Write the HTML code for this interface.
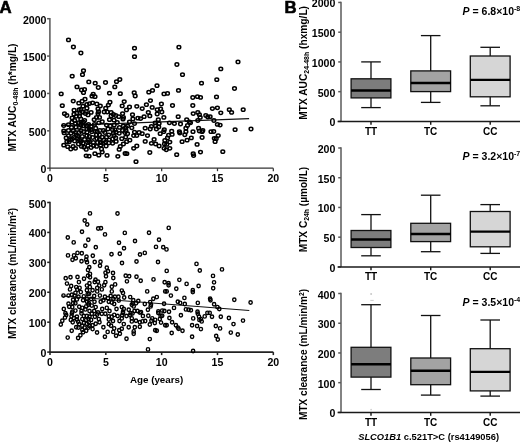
<!DOCTYPE html><html><head><meta charset="utf-8"><style>html,body{margin:0;padding:0;background:#fff;width:520px;height:442px;overflow:hidden}svg{display:block;filter:grayscale(100%)}text{font-family:"Liberation Sans",sans-serif}</style></head><body><svg width="520" height="442" viewBox="0 0 520 442"><rect width="520" height="442" fill="#fff"/><text x="-0.4" y="13" font-size="16.8" font-weight="bold" stroke="#000" stroke-width="0.6">A</text><text x="284.6" y="13" font-size="16.8" font-weight="bold" stroke="#000" stroke-width="0.6">B</text><line x1="49.9" y1="17.99999999999999" x2="49.9" y2="168.2" stroke="#555" stroke-width="1.5"/><line x1="47.1" y1="168.2" x2="49.9" y2="168.2" stroke="#555" stroke-width="1.5"/><text x="46.5" y="173.20" font-size="10.6" font-weight="bold" text-anchor="end">0</text><line x1="47.1" y1="130.825" x2="49.9" y2="130.825" stroke="#555" stroke-width="1.5"/><text x="46.5" y="135.82" font-size="10.6" font-weight="bold" text-anchor="end">500</text><line x1="47.1" y1="93.44999999999999" x2="49.9" y2="93.44999999999999" stroke="#555" stroke-width="1.5"/><text x="46.5" y="98.45" font-size="10.6" font-weight="bold" text-anchor="end">1000</text><line x1="47.1" y1="56.07499999999999" x2="49.9" y2="56.07499999999999" stroke="#555" stroke-width="1.5"/><text x="46.5" y="61.07" font-size="10.6" font-weight="bold" text-anchor="end">1500</text><line x1="47.1" y1="18.69999999999999" x2="49.9" y2="18.69999999999999" stroke="#555" stroke-width="1.5"/><text x="46.5" y="23.70" font-size="10.6" font-weight="bold" text-anchor="end">2000</text><line x1="49.2" y1="168.2" x2="273.3" y2="168.2" stroke="#333" stroke-width="1.25"/><line x1="50.0" y1="168.2" x2="50.0" y2="171.2" stroke="#333" stroke-width="1.25"/><text x="50.0" y="181.5" font-size="10.6" font-weight="bold" text-anchor="middle">0</text><line x1="105.83" y1="168.2" x2="105.83" y2="171.2" stroke="#333" stroke-width="1.25"/><text x="105.83" y="181.5" font-size="10.6" font-weight="bold" text-anchor="middle">5</text><line x1="161.66" y1="168.2" x2="161.66" y2="171.2" stroke="#333" stroke-width="1.25"/><text x="161.66" y="181.5" font-size="10.6" font-weight="bold" text-anchor="middle">10</text><line x1="217.49" y1="168.2" x2="217.49" y2="171.2" stroke="#333" stroke-width="1.25"/><text x="217.49" y="181.5" font-size="10.6" font-weight="bold" text-anchor="middle">15</text><line x1="273.32" y1="168.2" x2="273.32" y2="171.2" stroke="#333" stroke-width="1.25"/><text x="273.32" y="181.5" font-size="10.6" font-weight="bold" text-anchor="middle">20</text><text transform="translate(16.0,151.5) rotate(-90)" font-size="10.6" font-weight="bold" textLength="108.0" lengthAdjust="spacingAndGlyphs">MTX AUC<tspan font-size="7.2" dy="2.3">0-48h</tspan><tspan dy="-2.3"> (h*mg/L)</tspan></text><line x1="50" y1="201.8" x2="50" y2="352.1" stroke="#222" stroke-width="1.55"/><line x1="47.2" y1="352.1" x2="50" y2="352.1" stroke="#222" stroke-width="1.55"/><text x="46.5" y="357.10" font-size="10.6" font-weight="bold" text-anchor="end">0</text><line x1="47.2" y1="322.18" x2="50" y2="322.18" stroke="#222" stroke-width="1.55"/><text x="46.5" y="327.18" font-size="10.6" font-weight="bold" text-anchor="end">100</text><line x1="47.2" y1="292.26" x2="50" y2="292.26" stroke="#222" stroke-width="1.55"/><text x="46.5" y="297.26" font-size="10.6" font-weight="bold" text-anchor="end">200</text><line x1="47.2" y1="262.34000000000003" x2="50" y2="262.34000000000003" stroke="#222" stroke-width="1.55"/><text x="46.5" y="267.34" font-size="10.6" font-weight="bold" text-anchor="end">300</text><line x1="47.2" y1="232.42000000000002" x2="50" y2="232.42000000000002" stroke="#222" stroke-width="1.55"/><text x="46.5" y="237.42" font-size="10.6" font-weight="bold" text-anchor="end">400</text><line x1="47.2" y1="202.5" x2="50" y2="202.5" stroke="#222" stroke-width="1.55"/><text x="46.5" y="207.50" font-size="10.6" font-weight="bold" text-anchor="end">500</text><line x1="49.2" y1="352.1" x2="273.3" y2="352.1" stroke="#222" stroke-width="1.55"/><line x1="50.0" y1="352.1" x2="50.0" y2="355.1" stroke="#222" stroke-width="1.55"/><text x="50.0" y="365.5" font-size="10.6" font-weight="bold" text-anchor="middle">0</text><line x1="105.83" y1="352.1" x2="105.83" y2="355.1" stroke="#222" stroke-width="1.55"/><text x="105.83" y="365.5" font-size="10.6" font-weight="bold" text-anchor="middle">5</text><line x1="161.66" y1="352.1" x2="161.66" y2="355.1" stroke="#222" stroke-width="1.55"/><text x="161.66" y="365.5" font-size="10.6" font-weight="bold" text-anchor="middle">10</text><line x1="217.49" y1="352.1" x2="217.49" y2="355.1" stroke="#222" stroke-width="1.55"/><text x="217.49" y="365.5" font-size="10.6" font-weight="bold" text-anchor="middle">15</text><line x1="273.32" y1="352.1" x2="273.32" y2="355.1" stroke="#222" stroke-width="1.55"/><text x="273.32" y="365.5" font-size="10.6" font-weight="bold" text-anchor="middle">20</text><text transform="translate(16.0,339.0) rotate(-90)" font-size="10.6" font-weight="bold" textLength="131.1" lengthAdjust="spacingAndGlyphs">MTX clearance (mL/min/m<tspan font-size="7.2" dy="-3.5">2</tspan><tspan dy="3.5">)</tspan></text><text x="156.6" y="383.4" font-size="9.8" font-weight="bold" text-anchor="middle">Age (years)</text><line x1="341.0" y1="1.7500000000000029" x2="341.0" y2="121.4" stroke="#5a5a5a" stroke-width="1.5"/><line x1="338.2" y1="121.4" x2="341.0" y2="121.4" stroke="#5a5a5a" stroke-width="1.5"/><text x="335.4" y="126.40" font-size="10.6" font-weight="bold" text-anchor="end">0</text><line x1="338.2" y1="91.66250000000001" x2="341.0" y2="91.66250000000001" stroke="#5a5a5a" stroke-width="1.5"/><text x="335.4" y="96.66" font-size="10.6" font-weight="bold" text-anchor="end">500</text><line x1="338.2" y1="61.925000000000004" x2="341.0" y2="61.925000000000004" stroke="#5a5a5a" stroke-width="1.5"/><text x="335.4" y="66.93" font-size="10.6" font-weight="bold" text-anchor="end">1000</text><line x1="338.2" y1="32.1875" x2="341.0" y2="32.1875" stroke="#5a5a5a" stroke-width="1.5"/><text x="335.4" y="37.19" font-size="10.6" font-weight="bold" text-anchor="end">1500</text><line x1="338.2" y1="2.450000000000003" x2="341.0" y2="2.450000000000003" stroke="#5a5a5a" stroke-width="1.5"/><text x="335.4" y="7.45" font-size="10.6" font-weight="bold" text-anchor="end">2000</text><line x1="337.6" y1="121.4" x2="520" y2="121.4" stroke="#1a1a1a" stroke-width="1.45"/><line x1="371" y1="121.4" x2="371" y2="124.80000000000001" stroke="#1a1a1a" stroke-width="1.45"/><line x1="430.7" y1="121.4" x2="430.7" y2="124.80000000000001" stroke="#1a1a1a" stroke-width="1.45"/><line x1="490.2" y1="121.4" x2="490.2" y2="124.80000000000001" stroke="#1a1a1a" stroke-width="1.45"/><text x="371" y="134.80" font-size="10" font-weight="bold" text-anchor="middle">TT</text><text x="430.7" y="134.80" font-size="10" font-weight="bold" text-anchor="middle">TC</text><text x="490.2" y="134.80" font-size="10" font-weight="bold" text-anchor="middle">CC</text><line x1="371" y1="61.9" x2="371" y2="107.6" stroke="#111" stroke-width="1.3"/><line x1="361.2" y1="61.9" x2="380.8" y2="61.9" stroke="#111" stroke-width="1.3"/><line x1="361.2" y1="107.6" x2="380.8" y2="107.6" stroke="#111" stroke-width="1.3"/><rect x="351.1" y="78.8" width="39.8" height="19.10000000000001" fill="#7d7d7d" stroke="#111" stroke-width="1.3"/><line x1="351.1" y1="90.5" x2="390.9" y2="90.5" stroke="#000" stroke-width="2.4"/><line x1="430.7" y1="35.6" x2="430.7" y2="102.4" stroke="#111" stroke-width="1.3"/><line x1="420.9" y1="35.6" x2="440.5" y2="35.6" stroke="#111" stroke-width="1.3"/><line x1="420.9" y1="102.4" x2="440.5" y2="102.4" stroke="#111" stroke-width="1.3"/><rect x="410.8" y="70.9" width="39.8" height="20.69999999999999" fill="#a3a3a3" stroke="#111" stroke-width="1.3"/><line x1="410.8" y1="83" x2="450.59999999999997" y2="83" stroke="#000" stroke-width="2.4"/><line x1="490.2" y1="47.3" x2="490.2" y2="105.8" stroke="#111" stroke-width="1.3"/><line x1="480.4" y1="47.3" x2="500.0" y2="47.3" stroke="#111" stroke-width="1.3"/><line x1="480.4" y1="105.8" x2="500.0" y2="105.8" stroke="#111" stroke-width="1.3"/><rect x="470.3" y="56" width="39.8" height="40.8" fill="#d6d6d6" stroke="#111" stroke-width="1.3"/><line x1="470.3" y1="79.9" x2="510.09999999999997" y2="79.9" stroke="#000" stroke-width="2.4"/><text transform="translate(307.0,119.69999999999999) rotate(-90)" font-size="10.6" font-weight="bold" textLength="113.7" lengthAdjust="spacingAndGlyphs">MTX AUC<tspan font-size="7.2" dy="2.3">24-48h</tspan><tspan dy="-2.3"> (hxmg/L)</tspan></text><text x="462.6" y="14.7" font-size="10.5" font-weight="bold"><tspan font-style="italic">P</tspan> = 6.8×10<tspan font-size="7" dy="-4">-8</tspan></text><line x1="341.0" y1="147.29999999999998" x2="341.0" y2="266.9" stroke="#5a5a5a" stroke-width="1.5"/><line x1="338.2" y1="266.9" x2="341.0" y2="266.9" stroke="#5a5a5a" stroke-width="1.5"/><text x="335.4" y="271.90" font-size="10.6" font-weight="bold" text-anchor="end">0</text><line x1="338.2" y1="237.17499999999998" x2="341.0" y2="237.17499999999998" stroke="#5a5a5a" stroke-width="1.5"/><text x="335.4" y="242.17" font-size="10.6" font-weight="bold" text-anchor="end">50</text><line x1="338.2" y1="207.45" x2="341.0" y2="207.45" stroke="#5a5a5a" stroke-width="1.5"/><text x="335.4" y="212.45" font-size="10.6" font-weight="bold" text-anchor="end">100</text><line x1="338.2" y1="177.72499999999997" x2="341.0" y2="177.72499999999997" stroke="#5a5a5a" stroke-width="1.5"/><text x="335.4" y="182.72" font-size="10.6" font-weight="bold" text-anchor="end">150</text><line x1="338.2" y1="147.99999999999997" x2="341.0" y2="147.99999999999997" stroke="#5a5a5a" stroke-width="1.5"/><text x="335.4" y="153.00" font-size="10.6" font-weight="bold" text-anchor="end">200</text><line x1="337.6" y1="266.9" x2="520" y2="266.9" stroke="#1a1a1a" stroke-width="1.45"/><line x1="371" y1="266.9" x2="371" y2="270.29999999999995" stroke="#1a1a1a" stroke-width="1.45"/><line x1="430.7" y1="266.9" x2="430.7" y2="270.29999999999995" stroke="#1a1a1a" stroke-width="1.45"/><line x1="490.2" y1="266.9" x2="490.2" y2="270.29999999999995" stroke="#1a1a1a" stroke-width="1.45"/><text x="371" y="280.30" font-size="10" font-weight="bold" text-anchor="middle">TT</text><text x="430.7" y="280.30" font-size="10" font-weight="bold" text-anchor="middle">TC</text><text x="490.2" y="280.30" font-size="10" font-weight="bold" text-anchor="middle">CC</text><line x1="371" y1="214.6" x2="371" y2="255.8" stroke="#111" stroke-width="1.3"/><line x1="361.2" y1="214.6" x2="380.8" y2="214.6" stroke="#111" stroke-width="1.3"/><line x1="361.2" y1="255.8" x2="380.8" y2="255.8" stroke="#111" stroke-width="1.3"/><rect x="351.1" y="230.5" width="39.8" height="17.0" fill="#7d7d7d" stroke="#111" stroke-width="1.3"/><line x1="351.1" y1="239.5" x2="390.9" y2="239.5" stroke="#000" stroke-width="2.4"/><line x1="430.7" y1="195.2" x2="430.7" y2="251.7" stroke="#111" stroke-width="1.3"/><line x1="420.9" y1="195.2" x2="440.5" y2="195.2" stroke="#111" stroke-width="1.3"/><line x1="420.9" y1="251.7" x2="440.5" y2="251.7" stroke="#111" stroke-width="1.3"/><rect x="410.8" y="223.3" width="39.8" height="18.299999999999983" fill="#a3a3a3" stroke="#111" stroke-width="1.3"/><line x1="410.8" y1="234" x2="450.59999999999997" y2="234" stroke="#000" stroke-width="2.4"/><line x1="490.2" y1="204.6" x2="490.2" y2="253.4" stroke="#111" stroke-width="1.3"/><line x1="480.4" y1="204.6" x2="500.0" y2="204.6" stroke="#111" stroke-width="1.3"/><line x1="480.4" y1="253.4" x2="500.0" y2="253.4" stroke="#111" stroke-width="1.3"/><rect x="470.3" y="211.5" width="39.8" height="35.30000000000001" fill="#d6d6d6" stroke="#111" stroke-width="1.3"/><line x1="470.3" y1="231.6" x2="510.09999999999997" y2="231.6" stroke="#000" stroke-width="2.4"/><text transform="translate(306.6,252.2) rotate(-90)" font-size="10.6" font-weight="bold" textLength="85.4" lengthAdjust="spacingAndGlyphs">MTX C<tspan font-size="7.2" dy="2.3">24h</tspan><tspan dy="-2.3"> (µmol/L)</tspan></text><text x="462.6" y="160.2" font-size="10.5" font-weight="bold"><tspan font-style="italic">P</tspan> = 3.2×10<tspan font-size="7" dy="-4">-7</tspan></text><line x1="341.0" y1="292.8" x2="341.0" y2="412.4" stroke="#5a5a5a" stroke-width="1.5"/><line x1="338.2" y1="412.4" x2="341.0" y2="412.4" stroke="#5a5a5a" stroke-width="1.5"/><text x="335.4" y="417.40" font-size="10.6" font-weight="bold" text-anchor="end">0</text><line x1="338.2" y1="382.67499999999995" x2="341.0" y2="382.67499999999995" stroke="#5a5a5a" stroke-width="1.5"/><text x="335.4" y="387.67" font-size="10.6" font-weight="bold" text-anchor="end">100</text><line x1="338.2" y1="352.95" x2="341.0" y2="352.95" stroke="#5a5a5a" stroke-width="1.5"/><text x="335.4" y="357.95" font-size="10.6" font-weight="bold" text-anchor="end">200</text><line x1="338.2" y1="323.22499999999997" x2="341.0" y2="323.22499999999997" stroke="#5a5a5a" stroke-width="1.5"/><text x="335.4" y="328.22" font-size="10.6" font-weight="bold" text-anchor="end">300</text><line x1="338.2" y1="293.5" x2="341.0" y2="293.5" stroke="#5a5a5a" stroke-width="1.5"/><text x="335.4" y="298.50" font-size="10.6" font-weight="bold" text-anchor="end">400</text><line x1="337.6" y1="412.4" x2="520" y2="412.4" stroke="#1a1a1a" stroke-width="1.45"/><line x1="371" y1="412.4" x2="371" y2="415.79999999999995" stroke="#1a1a1a" stroke-width="1.45"/><line x1="430.7" y1="412.4" x2="430.7" y2="415.79999999999995" stroke="#1a1a1a" stroke-width="1.45"/><line x1="490.2" y1="412.4" x2="490.2" y2="415.79999999999995" stroke="#1a1a1a" stroke-width="1.45"/><text x="371" y="425.80" font-size="10" font-weight="bold" text-anchor="middle">TT</text><text x="430.7" y="425.80" font-size="10" font-weight="bold" text-anchor="middle">TC</text><text x="490.2" y="425.80" font-size="10" font-weight="bold" text-anchor="middle">CC</text><line x1="371" y1="304.7" x2="371" y2="389.5" stroke="#111" stroke-width="1.3"/><line x1="361.2" y1="304.7" x2="380.8" y2="304.7" stroke="#111" stroke-width="1.3"/><line x1="361.2" y1="389.5" x2="380.8" y2="389.5" stroke="#111" stroke-width="1.3"/><rect x="351.1" y="347.3" width="39.8" height="29.80000000000001" fill="#7d7d7d" stroke="#111" stroke-width="1.3"/><line x1="351.1" y1="364.3" x2="390.9" y2="364.3" stroke="#000" stroke-width="2.4"/><line x1="430.7" y1="315.5" x2="430.7" y2="395.1" stroke="#111" stroke-width="1.3"/><line x1="420.9" y1="315.5" x2="440.5" y2="315.5" stroke="#111" stroke-width="1.3"/><line x1="420.9" y1="395.1" x2="440.5" y2="395.1" stroke="#111" stroke-width="1.3"/><rect x="410.8" y="358" width="39.8" height="26.69999999999999" fill="#a3a3a3" stroke="#111" stroke-width="1.3"/><line x1="410.8" y1="370.8" x2="450.59999999999997" y2="370.8" stroke="#000" stroke-width="2.4"/><line x1="490.2" y1="320" x2="490.2" y2="396.1" stroke="#111" stroke-width="1.3"/><line x1="480.4" y1="320" x2="500.0" y2="320" stroke="#111" stroke-width="1.3"/><line x1="480.4" y1="396.1" x2="500.0" y2="396.1" stroke="#111" stroke-width="1.3"/><rect x="470.3" y="348.7" width="39.8" height="42.19999999999999" fill="#d6d6d6" stroke="#111" stroke-width="1.3"/><line x1="470.3" y1="371.9" x2="510.09999999999997" y2="371.9" stroke="#000" stroke-width="2.4"/><text transform="translate(307.3,419.90000000000003) rotate(-90)" font-size="10.6" font-weight="bold" textLength="131.1" lengthAdjust="spacingAndGlyphs">MTX clearance (mL/min/m<tspan font-size="7.2" dy="-3.5">2</tspan><tspan dy="3.5">)</tspan></text><text x="462.6" y="305.6" font-size="10.5" font-weight="bold"><tspan font-style="italic">P</tspan> = 3.5×10<tspan font-size="7" dy="-4">-4</tspan></text><text x="358.2" y="439.5" font-size="9.5" font-weight="bold" textLength="140.8" lengthAdjust="spacingAndGlyphs"><tspan font-style="italic">SLCO1B1</tspan> c.521T&gt;C (rs4149056)</text><circle cx="371.1" cy="293.9" r="1" fill="#c8c8c8"/><rect x="370.3" y="299.9" width="3.4" height="0.9" fill="#c8c8c8"/><circle cx="371.1" cy="409.6" r="0.9" fill="#d0d0d0"/><line x1="61" y1="125.6" x2="249.1" y2="118.6" stroke="#111" stroke-width="1.1"/><line x1="61.6" y1="296" x2="249.3" y2="310.5" stroke="#111" stroke-width="1.1"/><g fill="none" stroke="#000" stroke-width="1.5"><ellipse cx="68.5" cy="39.90" rx="1.85" ry="1.65"/><ellipse cx="73.4" cy="47.00" rx="1.85" ry="1.65"/><ellipse cx="80.9" cy="53.00" rx="1.85" ry="1.65"/><ellipse cx="134.5" cy="48.20" rx="1.85" ry="1.65"/><ellipse cx="134.5" cy="56.70" rx="1.85" ry="1.65"/><ellipse cx="178.9" cy="47.20" rx="1.85" ry="1.65"/><ellipse cx="176.9" cy="64.50" rx="1.85" ry="1.65"/><ellipse cx="238.0" cy="61.90" rx="1.85" ry="1.65"/><ellipse cx="83.5" cy="70.70" rx="1.85" ry="1.65"/><ellipse cx="82.5" cy="74.70" rx="1.85" ry="1.65"/><ellipse cx="72.2" cy="76.20" rx="1.85" ry="1.65"/><ellipse cx="88.8" cy="81.90" rx="1.85" ry="1.65"/><ellipse cx="95.2" cy="83.20" rx="1.85" ry="1.65"/><ellipse cx="98.3" cy="87.50" rx="1.85" ry="1.65"/><ellipse cx="77.0" cy="86.90" rx="1.85" ry="1.65"/><ellipse cx="81.5" cy="90.00" rx="1.85" ry="1.65"/><ellipse cx="84.5" cy="89.50" rx="1.85" ry="1.65"/><ellipse cx="83.5" cy="92.70" rx="1.85" ry="1.65"/><ellipse cx="61.2" cy="93.90" rx="1.85" ry="1.65"/><ellipse cx="93.2" cy="94.20" rx="1.85" ry="1.65"/><ellipse cx="92.0" cy="96.20" rx="1.85" ry="1.65"/><ellipse cx="95.0" cy="96.70" rx="1.85" ry="1.65"/><ellipse cx="73.25" cy="101.10" rx="1.85" ry="1.65"/><ellipse cx="85.0" cy="99.20" rx="1.85" ry="1.65"/><ellipse cx="82.15" cy="101.25" rx="1.85" ry="1.65"/><ellipse cx="105.5" cy="82.50" rx="1.85" ry="1.65"/><ellipse cx="116.5" cy="81.70" rx="1.85" ry="1.65"/><ellipse cx="119.8" cy="79.50" rx="1.85" ry="1.65"/><ellipse cx="114.8" cy="86.90" rx="1.85" ry="1.65"/><ellipse cx="109.5" cy="93.20" rx="1.85" ry="1.65"/><ellipse cx="120.3" cy="93.70" rx="1.85" ry="1.65"/><ellipse cx="134.2" cy="92.70" rx="1.85" ry="1.65"/><ellipse cx="135.2" cy="96.00" rx="1.85" ry="1.65"/><ellipse cx="148.8" cy="92.20" rx="1.85" ry="1.65"/><ellipse cx="152.5" cy="90.40" rx="1.85" ry="1.65"/><ellipse cx="150.45" cy="100.55" rx="1.85" ry="1.65"/><ellipse cx="124.2" cy="101.60" rx="1.85" ry="1.65"/><ellipse cx="109.95" cy="102.25" rx="1.85" ry="1.65"/><ellipse cx="182.5" cy="74.70" rx="1.85" ry="1.65"/><ellipse cx="201.5" cy="83.20" rx="1.85" ry="1.65"/><ellipse cx="157.0" cy="85.70" rx="1.85" ry="1.65"/><ellipse cx="178.5" cy="90.40" rx="1.85" ry="1.65"/><ellipse cx="164.0" cy="93.90" rx="1.85" ry="1.65"/><ellipse cx="167.5" cy="93.40" rx="1.85" ry="1.65"/><ellipse cx="192.8" cy="97.50" rx="1.85" ry="1.65"/><ellipse cx="197.5" cy="96.70" rx="1.85" ry="1.65"/><ellipse cx="200.5" cy="97.40" rx="1.85" ry="1.65"/><ellipse cx="220.8" cy="68.90" rx="1.85" ry="1.65"/><ellipse cx="216.8" cy="79.70" rx="1.85" ry="1.65"/><ellipse cx="234.5" cy="88.50" rx="1.85" ry="1.65"/><ellipse cx="216.5" cy="96.90" rx="1.85" ry="1.65"/><ellipse cx="62.3" cy="105.70" rx="1.85" ry="1.65"/><ellipse cx="64.5" cy="113.70" rx="1.85" ry="1.65"/><ellipse cx="66.8" cy="115.50" rx="1.85" ry="1.65"/><ellipse cx="74.1" cy="110.15" rx="1.85" ry="1.65"/><ellipse cx="72.15" cy="117.95" rx="1.85" ry="1.65"/><ellipse cx="78.8" cy="103.20" rx="1.85" ry="1.65"/><ellipse cx="76.2" cy="116.30" rx="1.85" ry="1.65"/><ellipse cx="63.8" cy="125.50" rx="1.85" ry="1.65"/><ellipse cx="79.2" cy="109.70" rx="1.85" ry="1.65"/><ellipse cx="86.9" cy="104.40" rx="1.85" ry="1.65"/><ellipse cx="86.9" cy="108.20" rx="1.85" ry="1.65"/><ellipse cx="85.4" cy="113.60" rx="1.85" ry="1.65"/><ellipse cx="88.05" cy="114.90" rx="1.85" ry="1.65"/><ellipse cx="80.8" cy="119.00" rx="1.85" ry="1.65"/><ellipse cx="84.6" cy="120.50" rx="1.85" ry="1.65"/><ellipse cx="75.4" cy="123.60" rx="1.85" ry="1.65"/><ellipse cx="79.2" cy="127.40" rx="1.85" ry="1.65"/><ellipse cx="71.5" cy="127.40" rx="1.85" ry="1.65"/><ellipse cx="68.5" cy="130.50" rx="1.85" ry="1.65"/><ellipse cx="83.1" cy="125.90" rx="1.85" ry="1.65"/><ellipse cx="86.9" cy="129.00" rx="1.85" ry="1.65"/><ellipse cx="63.8" cy="130.90" rx="1.85" ry="1.65"/><ellipse cx="74.6" cy="120.50" rx="1.85" ry="1.65"/><ellipse cx="88.5" cy="124.40" rx="1.85" ry="1.65"/><ellipse cx="92.6" cy="102.80" rx="1.85" ry="1.65"/><ellipse cx="96.8" cy="104.00" rx="1.85" ry="1.65"/><ellipse cx="100.3" cy="105.90" rx="1.85" ry="1.65"/><ellipse cx="89.5" cy="103.60" rx="1.85" ry="1.65"/><ellipse cx="91.1" cy="112.40" rx="1.85" ry="1.65"/><ellipse cx="98.0" cy="109.00" rx="1.85" ry="1.65"/><ellipse cx="98.0" cy="113.60" rx="1.85" ry="1.65"/><ellipse cx="96.5" cy="117.40" rx="1.85" ry="1.65"/><ellipse cx="94.2" cy="119.70" rx="1.85" ry="1.65"/><ellipse cx="99.5" cy="117.40" rx="1.85" ry="1.65"/><ellipse cx="102.2" cy="121.70" rx="1.85" ry="1.65"/><ellipse cx="98.8" cy="122.80" rx="1.85" ry="1.65"/><ellipse cx="94.5" cy="124.40" rx="1.85" ry="1.65"/><ellipse cx="91.1" cy="126.70" rx="1.85" ry="1.65"/><ellipse cx="95.7" cy="128.20" rx="1.85" ry="1.65"/><ellipse cx="91.1" cy="129.70" rx="1.85" ry="1.65"/><ellipse cx="108.4" cy="105.10" rx="1.85" ry="1.65"/><ellipse cx="105.7" cy="108.20" rx="1.85" ry="1.65"/><ellipse cx="104.2" cy="112.00" rx="1.85" ry="1.65"/><ellipse cx="107.2" cy="112.00" rx="1.85" ry="1.65"/><ellipse cx="111.1" cy="112.40" rx="1.85" ry="1.65"/><ellipse cx="113.4" cy="114.40" rx="1.85" ry="1.65"/><ellipse cx="111.1" cy="115.90" rx="1.85" ry="1.65"/><ellipse cx="115.7" cy="115.50" rx="1.85" ry="1.65"/><ellipse cx="118.8" cy="116.70" rx="1.85" ry="1.65"/><ellipse cx="109.5" cy="119.70" rx="1.85" ry="1.65"/><ellipse cx="122.6" cy="113.60" rx="1.85" ry="1.65"/><ellipse cx="123.4" cy="117.40" rx="1.85" ry="1.65"/><ellipse cx="122.2" cy="105.90" rx="1.85" ry="1.65"/><ellipse cx="126.45" cy="109.90" rx="1.85" ry="1.65"/><ellipse cx="117.2" cy="122.40" rx="1.85" ry="1.65"/><ellipse cx="106.5" cy="125.10" rx="1.85" ry="1.65"/><ellipse cx="110.3" cy="125.90" rx="1.85" ry="1.65"/><ellipse cx="114.2" cy="125.10" rx="1.85" ry="1.65"/><ellipse cx="108.0" cy="129.00" rx="1.85" ry="1.65"/><ellipse cx="112.6" cy="129.70" rx="1.85" ry="1.65"/><ellipse cx="119.5" cy="127.40" rx="1.85" ry="1.65"/><ellipse cx="123.4" cy="125.90" rx="1.85" ry="1.65"/><ellipse cx="125.7" cy="127.40" rx="1.85" ry="1.65"/><ellipse cx="103.4" cy="130.50" rx="1.85" ry="1.65"/><ellipse cx="99.9" cy="130.50" rx="1.85" ry="1.65"/><ellipse cx="122.6" cy="130.50" rx="1.85" ry="1.65"/><ellipse cx="161.4" cy="104.00" rx="1.85" ry="1.65"/><ellipse cx="146.4" cy="104.70" rx="1.85" ry="1.65"/><ellipse cx="136.8" cy="106.30" rx="1.85" ry="1.65"/><ellipse cx="129.5" cy="107.00" rx="1.85" ry="1.65"/><ellipse cx="142.2" cy="108.60" rx="1.85" ry="1.65"/><ellipse cx="152.2" cy="107.40" rx="1.85" ry="1.65"/><ellipse cx="157.2" cy="109.70" rx="1.85" ry="1.65"/><ellipse cx="160.6" cy="109.00" rx="1.85" ry="1.65"/><ellipse cx="161.8" cy="112.00" rx="1.85" ry="1.65"/><ellipse cx="157.2" cy="114.00" rx="1.85" ry="1.65"/><ellipse cx="148.3" cy="112.40" rx="1.85" ry="1.65"/><ellipse cx="149.8" cy="115.90" rx="1.85" ry="1.65"/><ellipse cx="144.1" cy="116.70" rx="1.85" ry="1.65"/><ellipse cx="140.6" cy="118.60" rx="1.85" ry="1.65"/><ellipse cx="137.9" cy="118.20" rx="1.85" ry="1.65"/><ellipse cx="132.5" cy="114.70" rx="1.85" ry="1.65"/><ellipse cx="132.9" cy="119.00" rx="1.85" ry="1.65"/><ellipse cx="129.5" cy="122.00" rx="1.85" ry="1.65"/><ellipse cx="134.5" cy="123.60" rx="1.85" ry="1.65"/><ellipse cx="163.85" cy="117.40" rx="1.85" ry="1.65"/><ellipse cx="158.3" cy="119.70" rx="1.85" ry="1.65"/><ellipse cx="155.2" cy="122.80" rx="1.85" ry="1.65"/><ellipse cx="159.1" cy="123.60" rx="1.85" ry="1.65"/><ellipse cx="155.6" cy="125.90" rx="1.85" ry="1.65"/><ellipse cx="158.7" cy="127.00" rx="1.85" ry="1.65"/><ellipse cx="151.4" cy="126.30" rx="1.85" ry="1.65"/><ellipse cx="150.2" cy="129.00" rx="1.85" ry="1.65"/><ellipse cx="156.4" cy="129.00" rx="1.85" ry="1.65"/><ellipse cx="145.2" cy="128.20" rx="1.85" ry="1.65"/><ellipse cx="131.8" cy="127.80" rx="1.85" ry="1.65"/><ellipse cx="127.5" cy="125.90" rx="1.85" ry="1.65"/><ellipse cx="164.25" cy="129.70" rx="1.85" ry="1.65"/><ellipse cx="172.5" cy="105.50" rx="1.85" ry="1.65"/><ellipse cx="192.8" cy="105.50" rx="1.85" ry="1.65"/><ellipse cx="193.2" cy="113.60" rx="1.85" ry="1.65"/><ellipse cx="197.8" cy="112.40" rx="1.85" ry="1.65"/><ellipse cx="199.4" cy="114.70" rx="1.85" ry="1.65"/><ellipse cx="200.2" cy="117.40" rx="1.85" ry="1.65"/><ellipse cx="197.8" cy="120.50" rx="1.85" ry="1.65"/><ellipse cx="178.2" cy="116.70" rx="1.85" ry="1.65"/><ellipse cx="186.7" cy="119.70" rx="1.85" ry="1.65"/><ellipse cx="169.4" cy="122.80" rx="1.85" ry="1.65"/><ellipse cx="174.4" cy="123.60" rx="1.85" ry="1.65"/><ellipse cx="180.5" cy="124.00" rx="1.85" ry="1.65"/><ellipse cx="189.4" cy="122.00" rx="1.85" ry="1.65"/><ellipse cx="190.5" cy="122.80" rx="1.85" ry="1.65"/><ellipse cx="187.5" cy="125.50" rx="1.85" ry="1.65"/><ellipse cx="185.9" cy="128.20" rx="1.85" ry="1.65"/><ellipse cx="198.6" cy="128.20" rx="1.85" ry="1.65"/><ellipse cx="171.7" cy="131.15" rx="1.85" ry="1.65"/><ellipse cx="179.4" cy="131.70" rx="1.85" ry="1.65"/><ellipse cx="193.0" cy="131.70" rx="1.85" ry="1.65"/><ellipse cx="212.4" cy="108.60" rx="1.85" ry="1.65"/><ellipse cx="217.4" cy="107.80" rx="1.85" ry="1.65"/><ellipse cx="220.8" cy="112.80" rx="1.85" ry="1.65"/><ellipse cx="229.3" cy="109.70" rx="1.85" ry="1.65"/><ellipse cx="231.6" cy="112.40" rx="1.85" ry="1.65"/><ellipse cx="205.8" cy="115.50" rx="1.85" ry="1.65"/><ellipse cx="207.8" cy="117.00" rx="1.85" ry="1.65"/><ellipse cx="210.1" cy="116.70" rx="1.85" ry="1.65"/><ellipse cx="213.9" cy="120.50" rx="1.85" ry="1.65"/><ellipse cx="217.4" cy="124.40" rx="1.85" ry="1.65"/><ellipse cx="220.1" cy="125.10" rx="1.85" ry="1.65"/><ellipse cx="235.1" cy="129.70" rx="1.85" ry="1.65"/><ellipse cx="211.0" cy="131.70" rx="1.85" ry="1.65"/><ellipse cx="213.7" cy="131.50" rx="1.85" ry="1.65"/><ellipse cx="202.8" cy="130.50" rx="1.85" ry="1.65"/><ellipse cx="243.2" cy="109.70" rx="1.85" ry="1.65"/><ellipse cx="251.0" cy="129.00" rx="1.85" ry="1.65"/><ellipse cx="64.2" cy="132.90" rx="1.85" ry="1.65"/><ellipse cx="66.2" cy="137.90" rx="1.85" ry="1.65"/><ellipse cx="68.5" cy="135.60" rx="1.85" ry="1.65"/><ellipse cx="70.8" cy="133.30" rx="1.85" ry="1.65"/><ellipse cx="66.9" cy="141.70" rx="1.85" ry="1.65"/><ellipse cx="69.2" cy="141.70" rx="1.85" ry="1.65"/><ellipse cx="63.8" cy="145.20" rx="1.85" ry="1.65"/><ellipse cx="67.7" cy="146.70" rx="1.85" ry="1.65"/><ellipse cx="70.8" cy="149.00" rx="1.85" ry="1.65"/><ellipse cx="73.1" cy="146.40" rx="1.85" ry="1.65"/><ellipse cx="75.4" cy="148.30" rx="1.85" ry="1.65"/><ellipse cx="74.6" cy="141.00" rx="1.85" ry="1.65"/><ellipse cx="73.8" cy="137.50" rx="1.85" ry="1.65"/><ellipse cx="76.2" cy="134.80" rx="1.85" ry="1.65"/><ellipse cx="79.2" cy="132.50" rx="1.85" ry="1.65"/><ellipse cx="82.3" cy="136.40" rx="1.85" ry="1.65"/><ellipse cx="78.5" cy="144.00" rx="1.85" ry="1.65"/><ellipse cx="81.5" cy="146.40" rx="1.85" ry="1.65"/><ellipse cx="84.6" cy="139.40" rx="1.85" ry="1.65"/><ellipse cx="86.9" cy="135.60" rx="1.85" ry="1.65"/><ellipse cx="87.7" cy="142.50" rx="1.85" ry="1.65"/><ellipse cx="86.2" cy="149.40" rx="1.85" ry="1.65"/><ellipse cx="86.2" cy="155.85" rx="1.85" ry="1.65"/><ellipse cx="89.03" cy="156.15" rx="1.85" ry="1.65"/><ellipse cx="83.8" cy="131.70" rx="1.85" ry="1.65"/><ellipse cx="77.7" cy="138.70" rx="1.85" ry="1.65"/><ellipse cx="80.8" cy="141.70" rx="1.85" ry="1.65"/><ellipse cx="72.3" cy="138.70" rx="1.85" ry="1.65"/><ellipse cx="119.2" cy="133.30" rx="1.85" ry="1.65"/><ellipse cx="124.9" cy="132.50" rx="1.85" ry="1.65"/><ellipse cx="121.8" cy="138.70" rx="1.85" ry="1.65"/><ellipse cx="125.7" cy="137.10" rx="1.85" ry="1.65"/><ellipse cx="126.65" cy="141.70" rx="1.85" ry="1.65"/><ellipse cx="123.4" cy="144.00" rx="1.85" ry="1.65"/><ellipse cx="120.3" cy="146.40" rx="1.85" ry="1.65"/><ellipse cx="119.2" cy="149.40" rx="1.85" ry="1.65"/><ellipse cx="125.15" cy="153.50" rx="1.85" ry="1.65"/><ellipse cx="117.85" cy="156.35" rx="1.85" ry="1.65"/><ellipse cx="107.05" cy="155.45" rx="1.85" ry="1.65"/><ellipse cx="98.8" cy="155.20" rx="1.85" ry="1.65"/><ellipse cx="94.9" cy="153.70" rx="1.85" ry="1.65"/><ellipse cx="102.2" cy="152.10" rx="1.85" ry="1.65"/><ellipse cx="101.5" cy="149.00" rx="1.85" ry="1.65"/><ellipse cx="106.1" cy="146.00" rx="1.85" ry="1.65"/><ellipse cx="96.5" cy="146.40" rx="1.85" ry="1.65"/><ellipse cx="91.1" cy="147.50" rx="1.85" ry="1.65"/><ellipse cx="100.7" cy="145.20" rx="1.85" ry="1.65"/><ellipse cx="112.6" cy="143.30" rx="1.85" ry="1.65"/><ellipse cx="116.1" cy="141.40" rx="1.85" ry="1.65"/><ellipse cx="112.6" cy="139.00" rx="1.85" ry="1.65"/><ellipse cx="109.2" cy="139.80" rx="1.85" ry="1.65"/><ellipse cx="106.5" cy="137.10" rx="1.85" ry="1.65"/><ellipse cx="103.8" cy="140.20" rx="1.85" ry="1.65"/><ellipse cx="102.2" cy="137.10" rx="1.85" ry="1.65"/><ellipse cx="99.5" cy="134.80" rx="1.85" ry="1.65"/><ellipse cx="96.5" cy="134.80" rx="1.85" ry="1.65"/><ellipse cx="92.6" cy="137.50" rx="1.85" ry="1.65"/><ellipse cx="89.5" cy="136.40" rx="1.85" ry="1.65"/><ellipse cx="89.5" cy="141.70" rx="1.85" ry="1.65"/><ellipse cx="93.4" cy="142.50" rx="1.85" ry="1.65"/><ellipse cx="97.6" cy="142.50" rx="1.85" ry="1.65"/><ellipse cx="99.5" cy="139.40" rx="1.85" ry="1.65"/><ellipse cx="108.8" cy="134.80" rx="1.85" ry="1.65"/><ellipse cx="104.9" cy="132.50" rx="1.85" ry="1.65"/><ellipse cx="113.4" cy="133.30" rx="1.85" ry="1.65"/><ellipse cx="115.7" cy="137.90" rx="1.85" ry="1.65"/><ellipse cx="91.8" cy="131.70" rx="1.85" ry="1.65"/><ellipse cx="97.2" cy="131.70" rx="1.85" ry="1.65"/><ellipse cx="88.0" cy="145.60" rx="1.85" ry="1.65"/><ellipse cx="108.8" cy="142.90" rx="1.85" ry="1.65"/><ellipse cx="103.0" cy="143.30" rx="1.85" ry="1.65"/><ellipse cx="127.5" cy="133.70" rx="1.85" ry="1.65"/><ellipse cx="133.7" cy="135.60" rx="1.85" ry="1.65"/><ellipse cx="136.8" cy="135.60" rx="1.85" ry="1.65"/><ellipse cx="134.5" cy="132.10" rx="1.85" ry="1.65"/><ellipse cx="139.1" cy="132.50" rx="1.85" ry="1.65"/><ellipse cx="142.2" cy="133.70" rx="1.85" ry="1.65"/><ellipse cx="147.5" cy="135.60" rx="1.85" ry="1.65"/><ellipse cx="129.8" cy="140.20" rx="1.85" ry="1.65"/><ellipse cx="145.2" cy="141.40" rx="1.85" ry="1.65"/><ellipse cx="154.1" cy="139.40" rx="1.85" ry="1.65"/><ellipse cx="151.4" cy="143.30" rx="1.85" ry="1.65"/><ellipse cx="155.6" cy="144.00" rx="1.85" ry="1.65"/><ellipse cx="159.1" cy="146.00" rx="1.85" ry="1.65"/><ellipse cx="136.8" cy="146.00" rx="1.85" ry="1.65"/><ellipse cx="133.7" cy="148.30" rx="1.85" ry="1.65"/><ellipse cx="149.8" cy="152.50" rx="1.85" ry="1.65"/><ellipse cx="126.8" cy="153.70" rx="1.85" ry="1.65"/><ellipse cx="136.0" cy="161.70" rx="1.85" ry="1.65"/><ellipse cx="160.2" cy="133.70" rx="1.85" ry="1.65"/><ellipse cx="163.7" cy="131.70" rx="1.85" ry="1.65"/><ellipse cx="164.1" cy="148.30" rx="1.85" ry="1.65"/><ellipse cx="164.85" cy="140.40" rx="1.85" ry="1.65"/><ellipse cx="164.5" cy="144.00" rx="1.85" ry="1.65"/><ellipse cx="172.1" cy="134.40" rx="1.85" ry="1.65"/><ellipse cx="168.6" cy="135.20" rx="1.85" ry="1.65"/><ellipse cx="167.5" cy="137.90" rx="1.85" ry="1.65"/><ellipse cx="169.8" cy="142.10" rx="1.85" ry="1.65"/><ellipse cx="166.7" cy="144.40" rx="1.85" ry="1.65"/><ellipse cx="169.8" cy="148.30" rx="1.85" ry="1.65"/><ellipse cx="166.3" cy="149.80" rx="1.85" ry="1.65"/><ellipse cx="179.8" cy="133.10" rx="1.85" ry="1.65"/><ellipse cx="185.9" cy="131.70" rx="1.85" ry="1.65"/><ellipse cx="184.8" cy="134.80" rx="1.85" ry="1.65"/><ellipse cx="187.1" cy="140.20" rx="1.85" ry="1.65"/><ellipse cx="182.1" cy="141.70" rx="1.85" ry="1.65"/><ellipse cx="191.3" cy="137.90" rx="1.85" ry="1.65"/><ellipse cx="199.4" cy="131.00" rx="1.85" ry="1.65"/><ellipse cx="202.1" cy="131.70" rx="1.85" ry="1.65"/><ellipse cx="202.1" cy="137.50" rx="1.85" ry="1.65"/><ellipse cx="197.1" cy="144.40" rx="1.85" ry="1.65"/><ellipse cx="200.5" cy="152.10" rx="1.85" ry="1.65"/><ellipse cx="193.2" cy="153.70" rx="1.85" ry="1.65"/><ellipse cx="193.6" cy="155.60" rx="1.85" ry="1.65"/><ellipse cx="176.7" cy="154.70" rx="1.85" ry="1.65"/><ellipse cx="218.2" cy="135.60" rx="1.85" ry="1.65"/><ellipse cx="214.3" cy="138.30" rx="1.85" ry="1.65"/><ellipse cx="216.2" cy="138.70" rx="1.85" ry="1.65"/><ellipse cx="215.1" cy="141.70" rx="1.85" ry="1.65"/><ellipse cx="222.8" cy="151.70" rx="1.85" ry="1.65"/><ellipse cx="81.0" cy="109.20" rx="1.85" ry="1.65"/><ellipse cx="74.0" cy="114.20" rx="1.85" ry="1.65"/><ellipse cx="77.0" cy="113.20" rx="1.85" ry="1.65"/><ellipse cx="80.0" cy="113.20" rx="1.85" ry="1.65"/><ellipse cx="79.5" cy="116.20" rx="1.85" ry="1.65"/><ellipse cx="86.25" cy="111.45" rx="1.85" ry="1.65"/><ellipse cx="98.5" cy="111.70" rx="1.85" ry="1.65"/><ellipse cx="83.0" cy="106.20" rx="1.85" ry="1.65"/><ellipse cx="82.5" cy="112.20" rx="1.85" ry="1.65"/><ellipse cx="68.5" cy="124.70" rx="1.85" ry="1.65"/><ellipse cx="72.0" cy="122.20" rx="1.85" ry="1.65"/><ellipse cx="78.5" cy="122.70" rx="1.85" ry="1.65"/><ellipse cx="76.0" cy="127.20" rx="1.85" ry="1.65"/><ellipse cx="73.5" cy="130.70" rx="1.85" ry="1.65"/><ellipse cx="75.5" cy="132.45" rx="1.85" ry="1.65"/><ellipse cx="81.0" cy="130.70" rx="1.85" ry="1.65"/><ellipse cx="77.5" cy="136.20" rx="1.85" ry="1.65"/><ellipse cx="70.5" cy="139.70" rx="1.85" ry="1.65"/><ellipse cx="79.5" cy="140.20" rx="1.85" ry="1.65"/><ellipse cx="81.0" cy="125.20" rx="1.85" ry="1.65"/><ellipse cx="81.0" cy="122.20" rx="1.85" ry="1.65"/><ellipse cx="83.5" cy="122.20" rx="1.85" ry="1.65"/><ellipse cx="87.0" cy="125.70" rx="1.85" ry="1.65"/><ellipse cx="89.0" cy="128.45" rx="1.85" ry="1.65"/><ellipse cx="87.0" cy="132.20" rx="1.85" ry="1.65"/><ellipse cx="95.25" cy="131.45" rx="1.85" ry="1.65"/><ellipse cx="97.0" cy="138.70" rx="1.85" ry="1.65"/><ellipse cx="88.5" cy="140.20" rx="1.85" ry="1.65"/><ellipse cx="93.5" cy="145.70" rx="1.85" ry="1.65"/><ellipse cx="100.5" cy="142.70" rx="1.85" ry="1.65"/><ellipse cx="105.5" cy="142.20" rx="1.85" ry="1.65"/><ellipse cx="83.0" cy="143.20" rx="1.85" ry="1.65"/><ellipse cx="84.0" cy="147.20" rx="1.85" ry="1.65"/><ellipse cx="115.0" cy="129.70" rx="1.85" ry="1.65"/><ellipse cx="126.0" cy="130.70" rx="1.85" ry="1.65"/><ellipse cx="114.0" cy="135.70" rx="1.85" ry="1.65"/><ellipse cx="116.0" cy="132.20" rx="1.85" ry="1.65"/><ellipse cx="114.0" cy="120.20" rx="1.85" ry="1.65"/><ellipse cx="123.0" cy="119.20" rx="1.85" ry="1.65"/></g><g fill="none" stroke="#000" stroke-width="1.4"><ellipse cx="90.0" cy="213.40" rx="1.65" ry="1.75"/><ellipse cx="84.7" cy="220.50" rx="1.65" ry="1.75"/><ellipse cx="87.2" cy="224.50" rx="1.65" ry="1.75"/><ellipse cx="98.2" cy="228.50" rx="1.65" ry="1.75"/><ellipse cx="101.0" cy="228.20" rx="1.65" ry="1.75"/><ellipse cx="82.0" cy="231.70" rx="1.65" ry="1.75"/><ellipse cx="67.8" cy="237.50" rx="1.65" ry="1.75"/><ellipse cx="88.3" cy="239.70" rx="1.65" ry="1.75"/><ellipse cx="73.7" cy="242.40" rx="1.65" ry="1.75"/><ellipse cx="117.5" cy="213.50" rx="1.65" ry="1.75"/><ellipse cx="105.0" cy="234.40" rx="1.65" ry="1.75"/><ellipse cx="124.8" cy="232.90" rx="1.65" ry="1.75"/><ellipse cx="149.0" cy="232.70" rx="1.65" ry="1.75"/><ellipse cx="135.0" cy="241.00" rx="1.65" ry="1.75"/><ellipse cx="119.0" cy="242.70" rx="1.65" ry="1.75"/><ellipse cx="168.7" cy="227.90" rx="1.65" ry="1.75"/><ellipse cx="159.0" cy="239.70" rx="1.65" ry="1.75"/><ellipse cx="85.3" cy="245.70" rx="1.65" ry="1.75"/><ellipse cx="95.8" cy="247.20" rx="1.65" ry="1.75"/><ellipse cx="68.0" cy="255.40" rx="1.65" ry="1.75"/><ellipse cx="74.0" cy="255.40" rx="1.65" ry="1.75"/><ellipse cx="77.5" cy="252.90" rx="1.65" ry="1.75"/><ellipse cx="81.8" cy="253.20" rx="1.65" ry="1.75"/><ellipse cx="72.5" cy="259.70" rx="1.65" ry="1.75"/><ellipse cx="75.8" cy="258.20" rx="1.65" ry="1.75"/><ellipse cx="81.5" cy="261.20" rx="1.65" ry="1.75"/><ellipse cx="86.5" cy="256.70" rx="1.65" ry="1.75"/><ellipse cx="86.2" cy="259.70" rx="1.65" ry="1.75"/><ellipse cx="87.0" cy="262.20" rx="1.65" ry="1.75"/><ellipse cx="92.8" cy="255.70" rx="1.65" ry="1.75"/><ellipse cx="94.7" cy="262.00" rx="1.65" ry="1.75"/><ellipse cx="100.5" cy="261.70" rx="1.65" ry="1.75"/><ellipse cx="100.0" cy="265.70" rx="1.65" ry="1.75"/><ellipse cx="89.3" cy="267.20" rx="1.65" ry="1.75"/><ellipse cx="88.0" cy="269.90" rx="1.65" ry="1.75"/><ellipse cx="90.0" cy="273.90" rx="1.65" ry="1.75"/><ellipse cx="88.0" cy="275.70" rx="1.65" ry="1.75"/><ellipse cx="90.0" cy="277.20" rx="1.65" ry="1.75"/><ellipse cx="84.0" cy="278.70" rx="1.65" ry="1.75"/><ellipse cx="77.5" cy="277.00" rx="1.65" ry="1.75"/><ellipse cx="70.5" cy="277.20" rx="1.65" ry="1.75"/><ellipse cx="65.7" cy="278.20" rx="1.65" ry="1.75"/><ellipse cx="66.95" cy="283.60" rx="1.65" ry="1.75"/><ellipse cx="78.9" cy="282.10" rx="1.65" ry="1.75"/><ellipse cx="89.45" cy="283.28" rx="1.65" ry="1.75"/><ellipse cx="95.5" cy="279.70" rx="1.65" ry="1.75"/><ellipse cx="98.0" cy="281.70" rx="1.65" ry="1.75"/><ellipse cx="94.7" cy="281.95" rx="1.65" ry="1.75"/><ellipse cx="124.0" cy="248.20" rx="1.65" ry="1.75"/><ellipse cx="111.5" cy="254.20" rx="1.65" ry="1.75"/><ellipse cx="119.8" cy="253.70" rx="1.65" ry="1.75"/><ellipse cx="140.0" cy="254.50" rx="1.65" ry="1.75"/><ellipse cx="144.8" cy="252.90" rx="1.65" ry="1.75"/><ellipse cx="136.5" cy="261.50" rx="1.65" ry="1.75"/><ellipse cx="122.0" cy="263.00" rx="1.65" ry="1.75"/><ellipse cx="106.8" cy="267.70" rx="1.65" ry="1.75"/><ellipse cx="108.0" cy="271.20" rx="1.65" ry="1.75"/><ellipse cx="105.5" cy="272.70" rx="1.65" ry="1.75"/><ellipse cx="106.0" cy="276.20" rx="1.65" ry="1.75"/><ellipse cx="113.0" cy="273.00" rx="1.65" ry="1.75"/><ellipse cx="113.3" cy="278.00" rx="1.65" ry="1.75"/><ellipse cx="125.7" cy="275.70" rx="1.65" ry="1.75"/><ellipse cx="129.2" cy="276.20" rx="1.65" ry="1.75"/><ellipse cx="136.5" cy="276.70" rx="1.65" ry="1.75"/><ellipse cx="140.7" cy="280.75" rx="1.65" ry="1.75"/><ellipse cx="126.93" cy="281.35" rx="1.65" ry="1.75"/><ellipse cx="153.5" cy="279.40" rx="1.65" ry="1.75"/><ellipse cx="105.4" cy="282.15" rx="1.65" ry="1.75"/><ellipse cx="115.15" cy="284.40" rx="1.65" ry="1.75"/><ellipse cx="156.0" cy="246.90" rx="1.65" ry="1.75"/><ellipse cx="163.2" cy="247.20" rx="1.65" ry="1.75"/><ellipse cx="166.5" cy="249.40" rx="1.65" ry="1.75"/><ellipse cx="158.0" cy="262.00" rx="1.65" ry="1.75"/><ellipse cx="196.5" cy="263.90" rx="1.65" ry="1.75"/><ellipse cx="199.8" cy="270.50" rx="1.65" ry="1.75"/><ellipse cx="166.7" cy="270.90" rx="1.65" ry="1.75"/><ellipse cx="179.35" cy="279.85" rx="1.65" ry="1.75"/><ellipse cx="164.65" cy="282.25" rx="1.65" ry="1.75"/><ellipse cx="168.5" cy="283.20" rx="1.65" ry="1.75"/><ellipse cx="186.6" cy="283.90" rx="1.65" ry="1.75"/><ellipse cx="222.0" cy="269.40" rx="1.65" ry="1.75"/><ellipse cx="213.0" cy="275.90" rx="1.65" ry="1.75"/><ellipse cx="214.05" cy="282.35" rx="1.65" ry="1.75"/><ellipse cx="71.2" cy="286.00" rx="1.65" ry="1.75"/><ellipse cx="70.0" cy="289.40" rx="1.65" ry="1.75"/><ellipse cx="76.2" cy="287.10" rx="1.65" ry="1.75"/><ellipse cx="79.6" cy="287.90" rx="1.65" ry="1.75"/><ellipse cx="77.3" cy="289.80" rx="1.65" ry="1.75"/><ellipse cx="80.8" cy="292.10" rx="1.65" ry="1.75"/><ellipse cx="75.4" cy="292.90" rx="1.65" ry="1.75"/><ellipse cx="63.5" cy="295.60" rx="1.65" ry="1.75"/><ellipse cx="68.5" cy="295.60" rx="1.65" ry="1.75"/><ellipse cx="71.9" cy="294.80" rx="1.65" ry="1.75"/><ellipse cx="74.6" cy="295.60" rx="1.65" ry="1.75"/><ellipse cx="78.5" cy="296.70" rx="1.65" ry="1.75"/><ellipse cx="73.1" cy="299.80" rx="1.65" ry="1.75"/><ellipse cx="76.9" cy="299.40" rx="1.65" ry="1.75"/><ellipse cx="68.5" cy="303.70" rx="1.65" ry="1.75"/><ellipse cx="73.1" cy="303.30" rx="1.65" ry="1.75"/><ellipse cx="75.4" cy="303.30" rx="1.65" ry="1.75"/><ellipse cx="69.2" cy="306.70" rx="1.65" ry="1.75"/><ellipse cx="72.3" cy="307.10" rx="1.65" ry="1.75"/><ellipse cx="63.8" cy="309.00" rx="1.65" ry="1.75"/><ellipse cx="79.2" cy="306.70" rx="1.65" ry="1.75"/><ellipse cx="75.4" cy="310.60" rx="1.65" ry="1.75"/><ellipse cx="72.3" cy="311.70" rx="1.65" ry="1.75"/><ellipse cx="81.5" cy="311.00" rx="1.65" ry="1.75"/><ellipse cx="82.3" cy="307.90" rx="1.65" ry="1.75"/><ellipse cx="83.8" cy="296.40" rx="1.65" ry="1.75"/><ellipse cx="83.1" cy="300.20" rx="1.65" ry="1.75"/><ellipse cx="86.9" cy="298.70" rx="1.65" ry="1.75"/><ellipse cx="86.9" cy="301.70" rx="1.65" ry="1.75"/><ellipse cx="88.5" cy="304.80" rx="1.65" ry="1.75"/><ellipse cx="86.2" cy="306.40" rx="1.65" ry="1.75"/><ellipse cx="86.9" cy="290.20" rx="1.65" ry="1.75"/><ellipse cx="86.9" cy="285.60" rx="1.65" ry="1.75"/><ellipse cx="87.7" cy="294.00" rx="1.65" ry="1.75"/><ellipse cx="85.4" cy="309.40" rx="1.65" ry="1.75"/><ellipse cx="65.4" cy="313.30" rx="1.65" ry="1.75"/><ellipse cx="89.9" cy="287.10" rx="1.65" ry="1.75"/><ellipse cx="92.6" cy="290.20" rx="1.65" ry="1.75"/><ellipse cx="89.2" cy="293.70" rx="1.65" ry="1.75"/><ellipse cx="99.2" cy="285.60" rx="1.65" ry="1.75"/><ellipse cx="97.2" cy="287.90" rx="1.65" ry="1.75"/><ellipse cx="97.2" cy="291.40" rx="1.65" ry="1.75"/><ellipse cx="101.8" cy="289.40" rx="1.65" ry="1.75"/><ellipse cx="104.2" cy="285.20" rx="1.65" ry="1.75"/><ellipse cx="111.8" cy="286.70" rx="1.65" ry="1.75"/><ellipse cx="111.8" cy="291.40" rx="1.65" ry="1.75"/><ellipse cx="121.8" cy="290.60" rx="1.65" ry="1.75"/><ellipse cx="123.0" cy="292.90" rx="1.65" ry="1.75"/><ellipse cx="124.2" cy="297.50" rx="1.65" ry="1.75"/><ellipse cx="94.2" cy="296.00" rx="1.65" ry="1.75"/><ellipse cx="99.9" cy="295.60" rx="1.65" ry="1.75"/><ellipse cx="104.9" cy="296.70" rx="1.65" ry="1.75"/><ellipse cx="108.0" cy="298.30" rx="1.65" ry="1.75"/><ellipse cx="110.7" cy="296.00" rx="1.65" ry="1.75"/><ellipse cx="114.9" cy="296.70" rx="1.65" ry="1.75"/><ellipse cx="118.4" cy="296.70" rx="1.65" ry="1.75"/><ellipse cx="113.4" cy="299.00" rx="1.65" ry="1.75"/><ellipse cx="91.1" cy="299.00" rx="1.65" ry="1.75"/><ellipse cx="94.5" cy="301.70" rx="1.65" ry="1.75"/><ellipse cx="100.7" cy="301.70" rx="1.65" ry="1.75"/><ellipse cx="103.4" cy="300.20" rx="1.65" ry="1.75"/><ellipse cx="108.8" cy="301.70" rx="1.65" ry="1.75"/><ellipse cx="111.8" cy="302.50" rx="1.65" ry="1.75"/><ellipse cx="114.2" cy="304.00" rx="1.65" ry="1.75"/><ellipse cx="88.8" cy="303.30" rx="1.65" ry="1.75"/><ellipse cx="91.8" cy="305.60" rx="1.65" ry="1.75"/><ellipse cx="95.7" cy="307.10" rx="1.65" ry="1.75"/><ellipse cx="102.2" cy="309.00" rx="1.65" ry="1.75"/><ellipse cx="106.8" cy="307.90" rx="1.65" ry="1.75"/><ellipse cx="109.5" cy="311.00" rx="1.65" ry="1.75"/><ellipse cx="116.5" cy="309.00" rx="1.65" ry="1.75"/><ellipse cx="121.8" cy="307.10" rx="1.65" ry="1.75"/><ellipse cx="123.8" cy="309.00" rx="1.65" ry="1.75"/><ellipse cx="89.5" cy="311.00" rx="1.65" ry="1.75"/><ellipse cx="94.2" cy="311.00" rx="1.65" ry="1.75"/><ellipse cx="98.0" cy="312.50" rx="1.65" ry="1.75"/><ellipse cx="123.0" cy="311.70" rx="1.65" ry="1.75"/><ellipse cx="118.8" cy="300.60" rx="1.65" ry="1.75"/><ellipse cx="165.2" cy="291.40" rx="1.65" ry="1.75"/><ellipse cx="147.2" cy="291.40" rx="1.65" ry="1.75"/><ellipse cx="130.2" cy="297.10" rx="1.65" ry="1.75"/><ellipse cx="133.3" cy="300.20" rx="1.65" ry="1.75"/><ellipse cx="138.3" cy="301.00" rx="1.65" ry="1.75"/><ellipse cx="136.0" cy="303.30" rx="1.65" ry="1.75"/><ellipse cx="132.9" cy="303.30" rx="1.65" ry="1.75"/><ellipse cx="131.8" cy="304.80" rx="1.65" ry="1.75"/><ellipse cx="133.7" cy="306.40" rx="1.65" ry="1.75"/><ellipse cx="144.8" cy="304.00" rx="1.65" ry="1.75"/><ellipse cx="153.3" cy="298.70" rx="1.65" ry="1.75"/><ellipse cx="156.8" cy="297.10" rx="1.65" ry="1.75"/><ellipse cx="150.2" cy="302.10" rx="1.65" ry="1.75"/><ellipse cx="151.0" cy="304.80" rx="1.65" ry="1.75"/><ellipse cx="150.6" cy="306.40" rx="1.65" ry="1.75"/><ellipse cx="164.05" cy="303.70" rx="1.65" ry="1.75"/><ellipse cx="128.7" cy="309.80" rx="1.65" ry="1.75"/><ellipse cx="134.5" cy="311.00" rx="1.65" ry="1.75"/><ellipse cx="137.5" cy="311.00" rx="1.65" ry="1.75"/><ellipse cx="141.0" cy="312.10" rx="1.65" ry="1.75"/><ellipse cx="147.9" cy="309.80" rx="1.65" ry="1.75"/><ellipse cx="158.3" cy="311.40" rx="1.65" ry="1.75"/><ellipse cx="162.2" cy="310.60" rx="1.65" ry="1.75"/><ellipse cx="130.6" cy="313.30" rx="1.65" ry="1.75"/><ellipse cx="168.6" cy="285.20" rx="1.65" ry="1.75"/><ellipse cx="198.6" cy="286.00" rx="1.65" ry="1.75"/><ellipse cx="176.3" cy="288.70" rx="1.65" ry="1.75"/><ellipse cx="166.7" cy="291.40" rx="1.65" ry="1.75"/><ellipse cx="192.8" cy="290.20" rx="1.65" ry="1.75"/><ellipse cx="192.8" cy="292.10" rx="1.65" ry="1.75"/><ellipse cx="170.9" cy="295.60" rx="1.65" ry="1.75"/><ellipse cx="184.4" cy="297.90" rx="1.65" ry="1.75"/><ellipse cx="177.8" cy="301.70" rx="1.65" ry="1.75"/><ellipse cx="180.2" cy="302.90" rx="1.65" ry="1.75"/><ellipse cx="184.8" cy="304.00" rx="1.65" ry="1.75"/><ellipse cx="197.8" cy="302.90" rx="1.65" ry="1.75"/><ellipse cx="174.0" cy="307.90" rx="1.65" ry="1.75"/><ellipse cx="185.9" cy="309.40" rx="1.65" ry="1.75"/><ellipse cx="188.6" cy="309.80" rx="1.65" ry="1.75"/><ellipse cx="190.9" cy="310.20" rx="1.65" ry="1.75"/><ellipse cx="169.0" cy="311.70" rx="1.65" ry="1.75"/><ellipse cx="164.4" cy="311.00" rx="1.65" ry="1.75"/><ellipse cx="197.5" cy="311.70" rx="1.65" ry="1.75"/><ellipse cx="213.2" cy="288.30" rx="1.65" ry="1.75"/><ellipse cx="210.1" cy="298.70" rx="1.65" ry="1.75"/><ellipse cx="210.5" cy="300.20" rx="1.65" ry="1.75"/><ellipse cx="214.1" cy="304.25" rx="1.65" ry="1.75"/><ellipse cx="217.4" cy="307.10" rx="1.65" ry="1.75"/><ellipse cx="219.3" cy="309.00" rx="1.65" ry="1.75"/><ellipse cx="234.3" cy="299.80" rx="1.65" ry="1.75"/><ellipse cx="207.4" cy="312.90" rx="1.65" ry="1.75"/><ellipse cx="209.7" cy="312.90" rx="1.65" ry="1.75"/><ellipse cx="250.6" cy="302.50" rx="1.65" ry="1.75"/><ellipse cx="66.2" cy="314.90" rx="1.65" ry="1.75"/><ellipse cx="65.0" cy="317.60" rx="1.65" ry="1.75"/><ellipse cx="62.3" cy="320.70" rx="1.65" ry="1.75"/><ellipse cx="60.8" cy="324.50" rx="1.65" ry="1.75"/><ellipse cx="71.9" cy="313.40" rx="1.65" ry="1.75"/><ellipse cx="71.5" cy="316.40" rx="1.65" ry="1.75"/><ellipse cx="73.8" cy="318.00" rx="1.65" ry="1.75"/><ellipse cx="70.8" cy="319.90" rx="1.65" ry="1.75"/><ellipse cx="72.7" cy="322.20" rx="1.65" ry="1.75"/><ellipse cx="76.9" cy="316.80" rx="1.65" ry="1.75"/><ellipse cx="76.9" cy="319.50" rx="1.65" ry="1.75"/><ellipse cx="78.1" cy="321.80" rx="1.65" ry="1.75"/><ellipse cx="79.2" cy="324.10" rx="1.65" ry="1.75"/><ellipse cx="76.2" cy="327.20" rx="1.65" ry="1.75"/><ellipse cx="78.5" cy="327.60" rx="1.65" ry="1.75"/><ellipse cx="81.5" cy="313.40" rx="1.65" ry="1.75"/><ellipse cx="82.3" cy="319.10" rx="1.65" ry="1.75"/><ellipse cx="83.8" cy="316.00" rx="1.65" ry="1.75"/><ellipse cx="86.9" cy="316.00" rx="1.65" ry="1.75"/><ellipse cx="86.2" cy="319.90" rx="1.65" ry="1.75"/><ellipse cx="88.5" cy="319.10" rx="1.65" ry="1.75"/><ellipse cx="83.8" cy="323.00" rx="1.65" ry="1.75"/><ellipse cx="82.3" cy="325.70" rx="1.65" ry="1.75"/><ellipse cx="86.9" cy="323.70" rx="1.65" ry="1.75"/><ellipse cx="84.6" cy="327.60" rx="1.65" ry="1.75"/><ellipse cx="82.3" cy="329.90" rx="1.65" ry="1.75"/><ellipse cx="86.2" cy="330.70" rx="1.65" ry="1.75"/><ellipse cx="83.1" cy="332.30" rx="1.65" ry="1.75"/><ellipse cx="80.4" cy="335.30" rx="1.65" ry="1.75"/><ellipse cx="78.1" cy="338.00" rx="1.65" ry="1.75"/><ellipse cx="71.7" cy="330.70" rx="1.65" ry="1.75"/><ellipse cx="67.7" cy="337.60" rx="1.65" ry="1.75"/><ellipse cx="88.5" cy="327.60" rx="1.65" ry="1.75"/><ellipse cx="91.8" cy="313.70" rx="1.65" ry="1.75"/><ellipse cx="89.5" cy="316.80" rx="1.65" ry="1.75"/><ellipse cx="91.1" cy="319.90" rx="1.65" ry="1.75"/><ellipse cx="94.9" cy="316.80" rx="1.65" ry="1.75"/><ellipse cx="97.2" cy="314.50" rx="1.65" ry="1.75"/><ellipse cx="98.8" cy="319.10" rx="1.65" ry="1.75"/><ellipse cx="99.5" cy="322.20" rx="1.65" ry="1.75"/><ellipse cx="95.7" cy="323.70" rx="1.65" ry="1.75"/><ellipse cx="92.6" cy="325.30" rx="1.65" ry="1.75"/><ellipse cx="89.5" cy="326.00" rx="1.65" ry="1.75"/><ellipse cx="92.6" cy="329.10" rx="1.65" ry="1.75"/><ellipse cx="88.8" cy="322.20" rx="1.65" ry="1.75"/><ellipse cx="103.4" cy="327.20" rx="1.65" ry="1.75"/><ellipse cx="97.05" cy="332.55" rx="1.65" ry="1.75"/><ellipse cx="107.65" cy="331.90" rx="1.65" ry="1.75"/><ellipse cx="104.9" cy="336.80" rx="1.65" ry="1.75"/><ellipse cx="101.8" cy="313.70" rx="1.65" ry="1.75"/><ellipse cx="105.3" cy="313.70" rx="1.65" ry="1.75"/><ellipse cx="108.8" cy="316.40" rx="1.65" ry="1.75"/><ellipse cx="108.8" cy="319.50" rx="1.65" ry="1.75"/><ellipse cx="111.8" cy="316.80" rx="1.65" ry="1.75"/><ellipse cx="114.2" cy="314.90" rx="1.65" ry="1.75"/><ellipse cx="117.6" cy="316.00" rx="1.65" ry="1.75"/><ellipse cx="113.0" cy="321.00" rx="1.65" ry="1.75"/><ellipse cx="119.5" cy="321.00" rx="1.65" ry="1.75"/><ellipse cx="121.8" cy="318.40" rx="1.65" ry="1.75"/><ellipse cx="122.2" cy="315.30" rx="1.65" ry="1.75"/><ellipse cx="126.5" cy="316.00" rx="1.65" ry="1.75"/><ellipse cx="123.8" cy="324.10" rx="1.65" ry="1.75"/><ellipse cx="108.8" cy="324.10" rx="1.65" ry="1.75"/><ellipse cx="111.1" cy="325.70" rx="1.65" ry="1.75"/><ellipse cx="114.2" cy="328.40" rx="1.65" ry="1.75"/><ellipse cx="113.25" cy="331.90" rx="1.65" ry="1.75"/><ellipse cx="119.2" cy="330.30" rx="1.65" ry="1.75"/><ellipse cx="121.8" cy="328.70" rx="1.65" ry="1.75"/><ellipse cx="119.9" cy="333.70" rx="1.65" ry="1.75"/><ellipse cx="116.1" cy="335.70" rx="1.65" ry="1.75"/><ellipse cx="126.5" cy="338.70" rx="1.65" ry="1.75"/><ellipse cx="123.0" cy="313.00" rx="1.65" ry="1.75"/><ellipse cx="130.2" cy="315.30" rx="1.65" ry="1.75"/><ellipse cx="132.5" cy="313.40" rx="1.65" ry="1.75"/><ellipse cx="131.8" cy="318.40" rx="1.65" ry="1.75"/><ellipse cx="131.8" cy="321.40" rx="1.65" ry="1.75"/><ellipse cx="136.0" cy="320.70" rx="1.65" ry="1.75"/><ellipse cx="139.8" cy="322.20" rx="1.65" ry="1.75"/><ellipse cx="142.5" cy="321.40" rx="1.65" ry="1.75"/><ellipse cx="145.2" cy="321.00" rx="1.65" ry="1.75"/><ellipse cx="142.9" cy="316.00" rx="1.65" ry="1.75"/><ellipse cx="148.3" cy="315.70" rx="1.65" ry="1.75"/><ellipse cx="139.8" cy="312.60" rx="1.65" ry="1.75"/><ellipse cx="152.2" cy="318.40" rx="1.65" ry="1.75"/><ellipse cx="151.4" cy="320.70" rx="1.65" ry="1.75"/><ellipse cx="149.8" cy="324.50" rx="1.65" ry="1.75"/><ellipse cx="155.2" cy="319.90" rx="1.65" ry="1.75"/><ellipse cx="154.8" cy="323.00" rx="1.65" ry="1.75"/><ellipse cx="158.3" cy="313.00" rx="1.65" ry="1.75"/><ellipse cx="160.6" cy="316.00" rx="1.65" ry="1.75"/><ellipse cx="162.2" cy="315.70" rx="1.65" ry="1.75"/><ellipse cx="159.8" cy="319.10" rx="1.65" ry="1.75"/><ellipse cx="161.0" cy="322.60" rx="1.65" ry="1.75"/><ellipse cx="165.2" cy="325.30" rx="1.65" ry="1.75"/><ellipse cx="128.7" cy="327.20" rx="1.65" ry="1.75"/><ellipse cx="134.8" cy="327.20" rx="1.65" ry="1.75"/><ellipse cx="139.8" cy="326.80" rx="1.65" ry="1.75"/><ellipse cx="133.7" cy="331.40" rx="1.65" ry="1.75"/><ellipse cx="133.7" cy="333.70" rx="1.65" ry="1.75"/><ellipse cx="155.2" cy="330.30" rx="1.65" ry="1.75"/><ellipse cx="156.8" cy="330.70" rx="1.65" ry="1.75"/><ellipse cx="149.8" cy="339.10" rx="1.65" ry="1.75"/><ellipse cx="180.9" cy="315.30" rx="1.65" ry="1.75"/><ellipse cx="169.4" cy="318.00" rx="1.65" ry="1.75"/><ellipse cx="172.1" cy="322.20" rx="1.65" ry="1.75"/><ellipse cx="166.7" cy="325.30" rx="1.65" ry="1.75"/><ellipse cx="175.9" cy="325.30" rx="1.65" ry="1.75"/><ellipse cx="177.8" cy="327.60" rx="1.65" ry="1.75"/><ellipse cx="178.6" cy="328.70" rx="1.65" ry="1.75"/><ellipse cx="182.5" cy="330.70" rx="1.65" ry="1.75"/><ellipse cx="171.7" cy="333.00" rx="1.65" ry="1.75"/><ellipse cx="193.2" cy="318.40" rx="1.65" ry="1.75"/><ellipse cx="192.1" cy="325.30" rx="1.65" ry="1.75"/><ellipse cx="197.1" cy="326.00" rx="1.65" ry="1.75"/><ellipse cx="200.9" cy="329.10" rx="1.65" ry="1.75"/><ellipse cx="192.1" cy="336.80" rx="1.65" ry="1.75"/><ellipse cx="197.8" cy="313.70" rx="1.65" ry="1.75"/><ellipse cx="199.0" cy="316.80" rx="1.65" ry="1.75"/><ellipse cx="200.9" cy="319.10" rx="1.65" ry="1.75"/><ellipse cx="201.7" cy="321.40" rx="1.65" ry="1.75"/><ellipse cx="199.4" cy="319.90" rx="1.65" ry="1.75"/><ellipse cx="204.7" cy="316.40" rx="1.65" ry="1.75"/><ellipse cx="212.0" cy="316.80" rx="1.65" ry="1.75"/><ellipse cx="220.8" cy="316.80" rx="1.65" ry="1.75"/><ellipse cx="228.9" cy="318.00" rx="1.65" ry="1.75"/><ellipse cx="233.5" cy="324.10" rx="1.65" ry="1.75"/><ellipse cx="215.8" cy="326.00" rx="1.65" ry="1.75"/><ellipse cx="220.1" cy="328.40" rx="1.65" ry="1.75"/><ellipse cx="230.8" cy="332.60" rx="1.65" ry="1.75"/><ellipse cx="237.8" cy="334.50" rx="1.65" ry="1.75"/><ellipse cx="216.2" cy="336.00" rx="1.65" ry="1.75"/><ellipse cx="217.8" cy="339.50" rx="1.65" ry="1.75"/><ellipse cx="243.0" cy="320.60" rx="1.65" ry="1.75"/><ellipse cx="148.0" cy="349.40" rx="1.65" ry="1.75"/><ellipse cx="193.1" cy="351.00" rx="1.65" ry="1.75"/></g></svg></body></html>
